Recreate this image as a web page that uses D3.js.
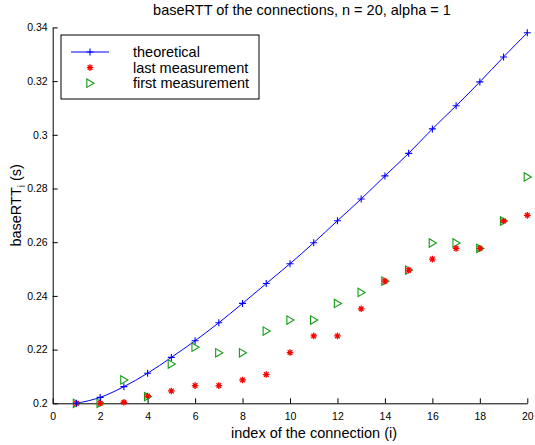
<!DOCTYPE html>
<html>
<head>
<meta charset="utf-8">
<script src="https://cdn.jsdelivr.net/npm/d3@7"></script>
<style>
  body { margin: 0; background: #fff; }
  text { font-family: "Liberation Sans", Arial, sans-serif; }
</style>
</head>
<body>
<div id="chart"></div>
<script>
// data
var connIndex = [1, 2, 3, 4, 5, 6, 7, 8, 9, 10, 11, 12, 13, 14, 15, 16, 17, 18, 19, 20];
var theoretical = [0.2000, 0.2022, 0.2062, 0.2112, 0.2171, 0.2233, 0.2300, 0.2372, 0.2446, 0.2520,
                   0.2598, 0.2680, 0.2761, 0.2847, 0.2931, 0.3022, 0.3108, 0.3197, 0.3290, 0.3380];
var lastMeas = [0.2000, 0.2000, 0.2004, 0.2027, 0.2046, 0.2066, 0.2066, 0.2087, 0.2107, 0.2189,
                0.2251, 0.2251, 0.2352, 0.2455, 0.2496, 0.2537, 0.2577, 0.2577, 0.2679, 0.2700];
var firstMeas = [0.2000, 0.2000, 0.2087, 0.2025, 0.2146, 0.2209, 0.2188, 0.2188, 0.2269, 0.2310,
                 0.2310, 0.2372, 0.2413, 0.2455, 0.2496, 0.2597, 0.2597, 0.2577, 0.2679, 0.2843];
var xTicks = [0, 2, 4, 6, 8, 10, 12, 14, 16, 18, 20];
var yTicks = [0.2, 0.22, 0.24, 0.26, 0.28, 0.3, 0.32, 0.34];

// set the dimensions and margins of the graph
var margin = {top: 27.4, right: 7.7, bottom: 41.7, left: 52.7},
    width = 535 - margin.left - margin.right,
    height = 445 - margin.top - margin.bottom;

var svg = d3.select("#chart")
  .append("svg")
    .attr("width", 535)
    .attr("height", 445)
  .append("g")
    .attr("transform", "translate(" + margin.left + "," + margin.top + ")");

var x = d3.scaleLinear().domain([0, 20]).range([0, width]);
var y = d3.scaleLinear().domain([0.2, 0.34]).range([height, 0]);

// axes, matlab style: ticks pointing inward
var xAxis = svg.append("g")
    .attr("transform", "translate(0," + height + ")")
    .call(d3.axisBottom(x).tickValues(xTicks).tickSizeInner(-5).tickSizeOuter(0).tickPadding(9));
var yAxis = svg.append("g")
    .call(d3.axisLeft(y).tickValues(yTicks).tickSizeInner(-5).tickSizeOuter(0).tickPadding(5)
      .tickFormat(function(d) { return d3.format("")(+d.toFixed(2)); }));

[xAxis, yAxis].forEach(function(a) {
  a.select(".domain").attr("stroke", "#000").attr("stroke-width", 1);
  a.selectAll(".tick line").attr("stroke", "#000");
  a.selectAll(".tick text").attr("font-size", "10.5px").attr("fill", "#000")
    .attr("font-family", "'Liberation Sans', Arial, sans-serif");
});

// theoretical line
var line = d3.line()
    .x(function(d, i) { return x(connIndex[i]); })
    .y(function(d) { return y(d); })
    .curve(d3.curveMonotoneX);

svg.append("path")
    .datum(theoretical)
    .attr("fill", "none")
    .attr("stroke", "#0000ff")
    .attr("stroke-width", 1)
    .attr("d", line);

function plusPath(s) {
  return "M" + (-s) + ",0H" + s + "M0," + (-s) + "V" + s;
}
function starPath(s) {
  var d = s * 0.7;
  return plusPath(s) + "M" + (-d) + "," + (-d) + "L" + d + "," + d + "M" + (-d) + "," + d + "L" + d + "," + (-d);
}
function triPath(s) {
  return "M" + (-s * 0.75) + "," + (-s) + "L" + (s * 0.95) + ",0L" + (-s * 0.75) + "," + s + "Z";
}

var green = "#139a13";

// first measurement triangles
svg.selectAll(".first")
    .data(firstMeas)
    .enter().append("path")
    .attr("class", "first")
    .attr("transform", function(d, i) { return "translate(" + x(connIndex[i]) + "," + y(d) + ")"; })
    .attr("d", triPath(4.2))
    .attr("fill", "none")
    .attr("stroke", green)
    .attr("stroke-width", 1.1);

// last measurement stars
svg.selectAll(".last")
    .data(lastMeas)
    .enter().append("path")
    .attr("class", "last")
    .attr("transform", function(d, i) { return "translate(" + x(connIndex[i]) + "," + y(d) + ")"; })
    .attr("d", starPath(3.3))
    .attr("fill", "none")
    .attr("stroke", "#ff0000")
    .attr("stroke-width", 1.3);

// theoretical markers
svg.selectAll(".theo")
    .data(theoretical)
    .enter().append("path")
    .attr("class", "theo")
    .attr("transform", function(d, i) { return "translate(" + x(connIndex[i]) + "," + y(d) + ")"; })
    .attr("d", plusPath(3.5))
    .attr("fill", "none")
    .attr("stroke", "#0000ff")
    .attr("stroke-width", 1.1);

// title
svg.append("text")
    .attr("x", width / 2 + 12)
    .attr("y", -12)
    .attr("text-anchor", "middle")
    .attr("font-size", "14.5px")
    .text("baseRTT of the connections, n = 20, alpha = 1");

// x label
svg.append("text")
    .attr("x", width / 2 + 24)
    .attr("y", height + 35)
    .attr("text-anchor", "middle")
    .attr("font-size", "14.5px")
    .text("index of the connection (i)");

// y label with subscript
var yl = svg.append("text")
    .attr("text-anchor", "middle")
    .attr("transform", "translate(" + (-32) + "," + (height / 2 - 10) + ") rotate(-90)")
    .attr("font-size", "14.5px");
yl.append("tspan").text("baseRTT");
yl.append("tspan").attr("font-size", "10px").attr("dy", 4).text("i");
yl.append("tspan").attr("dy", -4).text(" (s)");

// legend
var lg = svg.append("g").attr("transform", "translate(" + (61 - margin.left) + "," + (35 - margin.top) + ")");
lg.append("rect")
    .attr("width", 198)
    .attr("height", 64)
    .attr("fill", "#fff")
    .attr("stroke", "#000")
    .attr("stroke-width", 1);

var legendItems = [
  {name: "theoretical", kind: "theo"},
  {name: "last measurement", kind: "last"},
  {name: "first measurement", kind: "first"}
];
legendItems.forEach(function(d, i) {
  var ry = 17 + i * 15.6;
  if (d.kind === "theo") {
    lg.append("line").attr("x1", 10).attr("x2", 48).attr("y1", ry).attr("y2", ry)
      .attr("stroke", "#0000ff").attr("stroke-width", 1);
    lg.append("path").attr("transform", "translate(29," + ry + ")").attr("d", plusPath(3.5))
      .attr("stroke", "#0000ff").attr("fill", "none").attr("stroke-width", 1.1);
  } else if (d.kind === "last") {
    lg.append("path").attr("transform", "translate(29," + ry + ")").attr("d", starPath(3.3))
      .attr("stroke", "#ff0000").attr("fill", "none").attr("stroke-width", 1.3);
  } else {
    lg.append("path").attr("transform", "translate(29," + ry + ")").attr("d", triPath(4.2))
      .attr("stroke", green).attr("fill", "none").attr("stroke-width", 1.1);
  }
  lg.append("text")
    .attr("x", 72)
    .attr("y", ry + 5)
    .attr("font-size", "14.5px")
    .text(d.name);
});
</script>
</body>
</html>
